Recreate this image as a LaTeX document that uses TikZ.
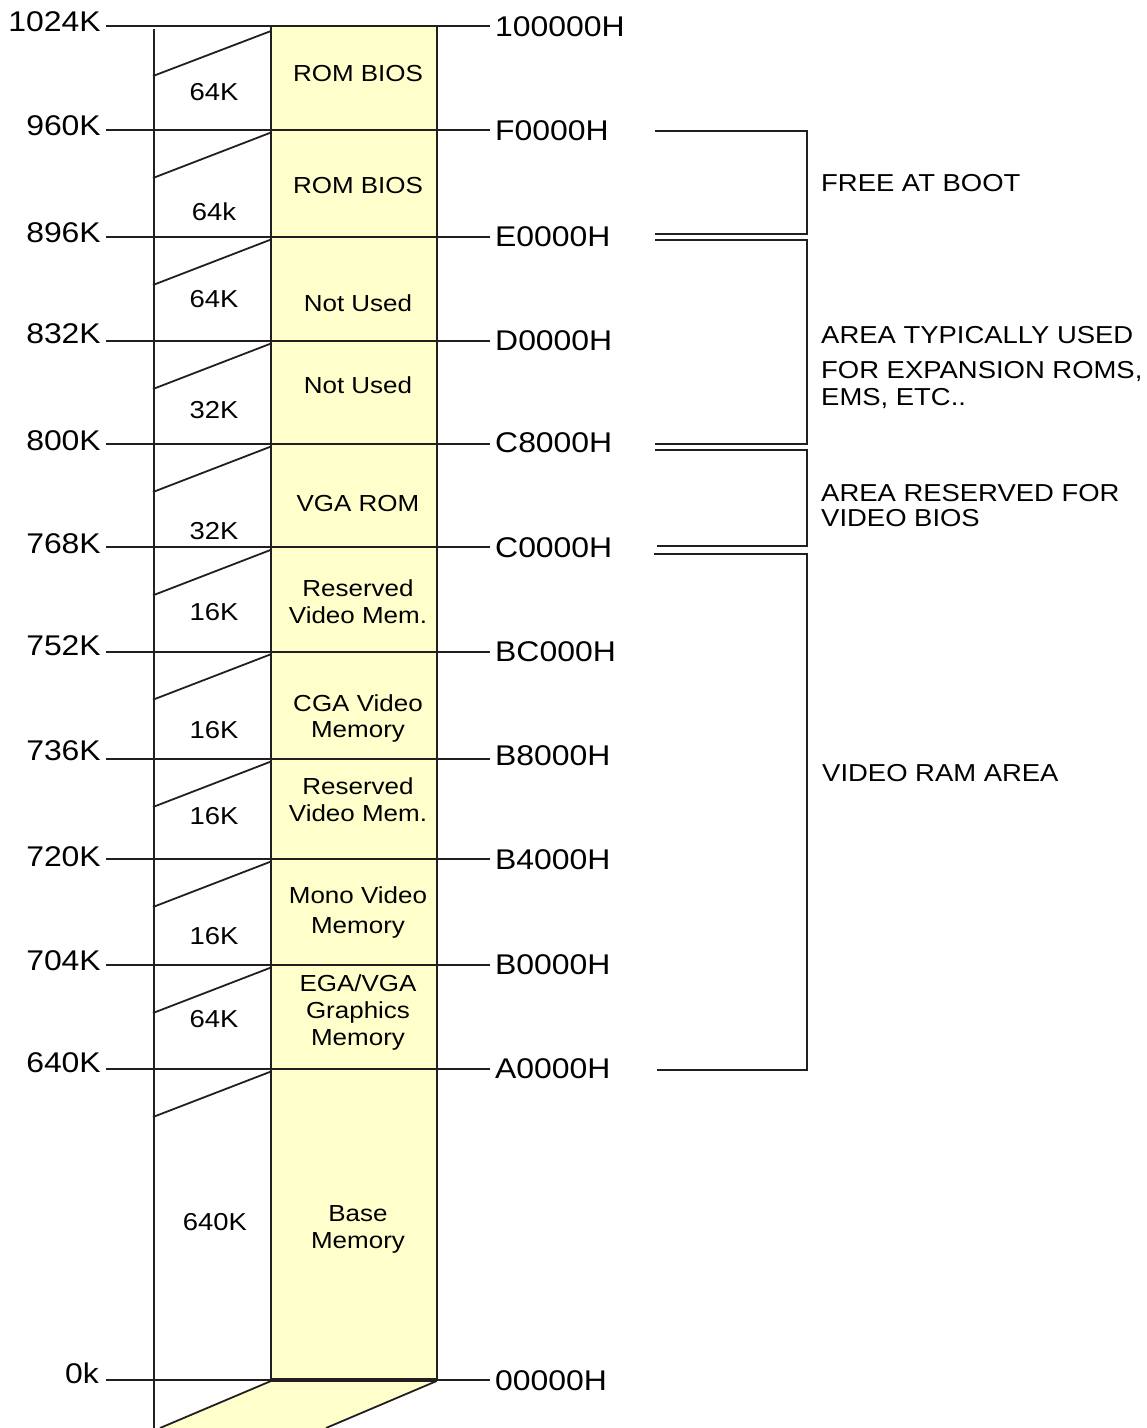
\documentclass[tikz,border=0pt]{standalone}
\usepackage{fontspec}
\setmainfont[FakeStretch=1.12]{Liberation Sans}
\definecolor{memyellow}{HTML}{FFFFCC}
\definecolor{ink}{HTML}{231F20}
\begin{document}
\begin{tikzpicture}[x=1pt,y=-1pt,
  rule/.style={draw=ink,line width=2pt},
  diag/.style={draw=ink,line width=1.8pt},
  bigl/.style={inner sep=0pt,anchor=base east,font=\fontsize{28.5}{31}\selectfont},
  bigr/.style={inner sep=0pt,anchor=base west,font=\fontsize{28.5}{31}\selectfont},
  sizel/.style={inner sep=0pt,anchor=base,font=\fontsize{24.5}{28}\selectfont},
  cell/.style={inner sep=0pt,anchor=base,font=\fontsize{23.2}{26}\selectfont},
  note/.style={inner sep=0pt,anchor=base west,font=\fontsize{24.5}{27}\selectfont}]
\useasboundingbox (0,0) rectangle (1147,1428);

% yellow column and bottom parallelogram
\fill[memyellow] (271,26) rectangle (436.7,1380);
\fill[memyellow] (271,1380) -- (436.7,1380) -- (326,1428) -- (160,1428) -- cycle;

% left vertical line
\coordinate (vtop) at (154.3,29);
\coordinate (vbot) at (154.3,1428);
\draw[rule] (vtop) -- (vbot);

% column borders
\coordinate (ctl) at (271,26);
\coordinate (cbl) at (271,1380);
\coordinate (ctr) at (436.7,26);
\coordinate (cbr) at (436.7,1380);
\draw[draw=ink,line width=2.2pt] (ctl) -- (cbl);
\draw[draw=ink,line width=2.2pt] (ctr) -- (cbr);

% horizontal rules
\foreach \n/\y in {a/26,b/130,c/237,d/341,e/444,f/547.3,g/651.7,h/759,i/859,j/965,k/1069,z/1380}{
  \coordinate (l\n) at (106,\y);
  \coordinate (r\n) at (490,\y);
  \draw[rule] (l\n) -- (r\n);
}

% diagonals
\draw[diag] (271,31) -- (153,76);
\foreach \y in {130,237,341,444,547.3,651.7,759,859,965,1069}{
  \draw[diag] (271,{\y+2.5}) -- (153,{\y+48});
}

% bottom edges
\draw[draw=ink,line width=3.8pt] (cbl) -- (cbr);
\draw[diag] (271,1381) -- (160,1428);
\draw[diag] (436.7,1381) -- (326,1428);

% left labels
\node[bigl] (k1024) at (101,31.7) {1024K};
\node[bigl] (k960) at (101,135) {960K};
\node[bigl] (k896) at (101,242) {896K};
\node[bigl] (k832) at (101,343) {832K};
\node[bigl] (k800) at (101,450) {800K};
\node[bigl] (k768) at (101,553) {768K};
\node[bigl] (k752) at (101,655) {752K};
\node[bigl] (k736) at (101,760) {736K};
\node[bigl] (k720) at (101,866) {720K};
\node[bigl] (k704) at (101,970) {704K};
\node[bigl] (k640) at (101,1072) {640K};
\node[bigl] (k0) at (99,1383.3) {0k};

% right labels
\node[bigr] (h100000) at (495,36.7) {100000H};
\node[bigr] (hF0000) at (495,140) {F0000H};
\node[bigr] (hE0000) at (495,246) {E0000H};
\node[bigr] (hD0000) at (495,350) {D0000H};
\node[bigr] (hC8000) at (495,452) {C8000H};
\node[bigr] (hC0000) at (495,557) {C0000H};
\node[bigr] (hBC000) at (495,661) {BC000H};
\node[bigr] (hB8000) at (495,765) {B8000H};
\node[bigr] (hB4000) at (495,869) {B4000H};
\node[bigr] (hB0000) at (495,974) {B0000H};
\node[bigr] (hA0000) at (495,1078) {A0000H};
\node[bigr] (h00000) at (495,1390) {00000H};

% size labels
\node[sizel] (s1) at (214,100) {64K};
\node[sizel] (s2) at (214,220) {64k};
\node[sizel] (s3) at (214,307) {64K};
\node[sizel] (s4) at (214,418) {32K};
\node[sizel] (s5) at (214,539) {32K};
\node[sizel] (s6) at (214,620.7) {16K};
\node[sizel] (s7) at (214,738) {16K};
\node[sizel] (s8) at (214,824) {16K};
\node[sizel] (s9) at (214,944) {16K};
\node[sizel] (s10) at (214,1027) {64K};
\node[sizel] (s11) at (215,1230.5) {640K};

% cell texts
\node[cell] (t1) at (358,81) {ROM BIOS};
\node[cell] (t2) at (358,193) {ROM BIOS};
\node[cell] (t3) at (358,311.5) {Not Used};
\node[cell] (t4) at (358,393.5) {Not Used};
\node[cell] (t5) at (358,511.5) {VGA ROM};
\node[cell] (t6a) at (358,596.7) {Reserved};
\node[cell] (t6b) at (358,623.3) {Video Mem.};
\node[cell] (t7a) at (358,711) {CGA Video};
\node[cell] (t7b) at (358,737) {Memory};
\node[cell] (t8a) at (358,794.5) {Reserved};
\node[cell] (t8b) at (358,821) {Video Mem.};
\node[cell] (t9a) at (358,903.5) {Mono Video};
\node[cell] (t9b) at (358,933.5) {Memory};
\node[cell] (t10a) at (358,991.7) {EGA/VGA};
\node[cell] (t10b) at (358,1018.3) {Graphics};
\node[cell] (t10c) at (358,1045) {Memory};
\node[cell] (t11a) at (358,1221.7) {Base};
\node[cell] (t11b) at (358,1248.3) {Memory};

% brackets
\draw[rule] (655,131) -- (807,131) -- (807,234) -- (655,234);
\draw[rule] (655,240) -- (808,240);
\draw[rule] (807,240) -- (807,443.5) -- (655,443.5);
\draw[rule] (808,443.5) -- (807,443.5);
\draw[rule] (655,450) -- (808,450);
\draw[rule] (807,450) -- (807,546) -- (657,546);
\draw[rule] (808,546) -- (807,546);
\draw[rule] (654,554) -- (808,554);
\draw[rule] (807,554) -- (807,1070) -- (657,1070);

% notes
\node[note] (n1) at (821,191.7) {FREE AT BOOT};
\node[note] (n2a) at (821,343.3) {AREA TYPICALLY USED};
\node[note] (n2b) at (821,378.3) {FOR EXPANSION ROMS,};
\node[note] (n2c) at (821,405) {EMS, ETC..};
\node[note] (n3a) at (821,501.7) {AREA RESERVED FOR};
\node[note] (n3b) at (821,526.7) {VIDEO BIOS};
\node[note] (n4) at (822,781.7) {VIDEO RAM AREA};
\end{tikzpicture}
\end{document}
